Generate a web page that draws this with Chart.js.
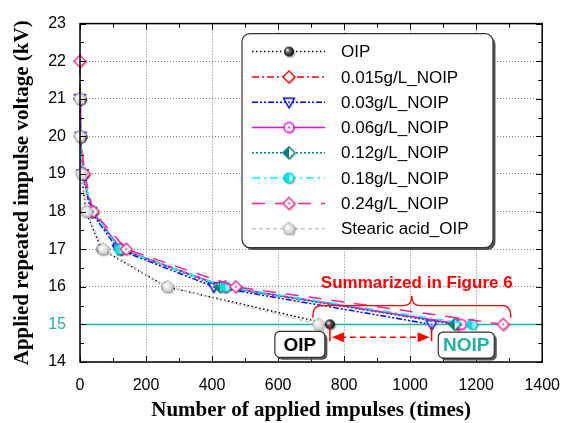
<!DOCTYPE html>
<html>
<head>
<meta charset="utf-8">
<script src="https://cdn.jsdelivr.net/npm/chart.js@4/dist/chart.umd.min.js"></script>
<style>
  html, body { margin: 0; background: #fff; }
</style>
</head>
<body>
<canvas id="c" width="574" height="423"></canvas>
<script>
// ---- data ----
const voltage = [21, 20, 19, 18, 17, 16, 15];
const voltageFrom22 = [22, 21, 20, 19, 18, 17, 16, 15];

const oipX = [0, 0, 4, 18, 65, 262, 757];
const noip015X = [0, 2, 8, 36, 124, 440, 1145];
const noip03X = [0, 2, 8, 33, 115, 405, 1065];
const noip06X = [0, 2, 9, 37, 125, 437, 1155];
const noip12X = [0, 2, 9, 37, 122, 425, 1135];
const noip18X = [0, 2, 9, 38, 120, 441, 1188];
const noip24X = [0, 0, 2, 14, 40, 140, 472, 1282];
const stearicX = [0, 0, 5, 20, 70, 265, 722];

const seriesLabels = ['OIP', '0.015g/L_NOIP', '0.03g/L_NOIP', '0.06g/L_NOIP',
    '0.12g/L_NOIP', '0.18g/L_NOIP', '0.24g/L_NOIP', 'Stearic acid_OIP'];

const xTicks = [0, 200, 400, 600, 800, 1000, 1200, 1400];
const yTicks = [14, 15, 16, 17, 18, 19, 20, 21, 22, 23];
const refVoltage = 15;

const TEAL = '#20b2a6';
const sans = '"Liberation Sans", Arial, sans-serif';
const serif = '"Liberation Serif", "Times New Roman", serif';

// ---- markers (small canvases used as pointStyle) ----
function marker(draw) {
    const c = document.createElement('canvas');
    c.width = c.height = 18;
    const g = c.getContext('2d');
    g.translate(9, 9);
    g.shadowColor = 'rgba(0,0,0,0.25)';
    g.shadowOffsetX = 1.5;
    g.shadowOffsetY = 1.5;
    g.shadowBlur = 1;
    g.lineWidth = 1.4;
    draw(g);
    return c;
}
const diamond = (g, r) => {
    g.beginPath();
    g.moveTo(0, -r); g.lineTo(r, 0); g.lineTo(0, r); g.lineTo(-r, 0); g.closePath();
};
const dot = (g, col) => {
    g.shadowColor = 'transparent';
    g.fillStyle = col;
    g.beginPath(); g.arc(0, 0, 1, 0, Math.PI * 2); g.fill();
};

const markers = [
    marker((g) => {
        const grd = g.createRadialGradient(-1.8, -1.8, 0.3, 0, 0, 5.3);
        grd.addColorStop(0, '#fff');
        grd.addColorStop(0.35, '#666');
        grd.addColorStop(1, '#000');
        g.fillStyle = grd;
        g.beginPath(); g.arc(0, 0, 5, 0, Math.PI * 2); g.fill();
    }),
    marker((g) => {
        diamond(g, 6); g.fillStyle = '#fff'; g.fill();
        g.shadowColor = 'transparent'; g.strokeStyle = '#ff0000'; g.stroke();
    }),
    marker((g) => {
        g.beginPath(); g.moveTo(-5.5, -4); g.lineTo(5.5, -4); g.lineTo(0, 5.5); g.closePath();
        g.fillStyle = '#fff'; g.fill();
        g.shadowColor = 'transparent'; g.strokeStyle = '#0000ff'; g.stroke();
        dot(g, '#0000ff');
    }),
    marker((g) => {
        g.beginPath(); g.arc(0, 0, 5, 0, Math.PI * 2);
        g.fillStyle = '#fff'; g.fill();
        g.shadowColor = 'transparent'; g.strokeStyle = '#ff00ff'; g.stroke();
        dot(g, '#ff00ff');
    }),
    marker((g) => {
        diamond(g, 6); g.fillStyle = '#fff'; g.fill();
        g.shadowColor = 'transparent';
        g.save(); g.beginPath(); g.rect(-7, -7, 7, 14); g.clip();
        diamond(g, 6); g.fillStyle = '#008080'; g.fill(); g.restore();
        diamond(g, 6); g.strokeStyle = '#008080'; g.stroke();
    }),
    marker((g) => {
        g.beginPath(); g.arc(0, 0, 5, 0, Math.PI * 2);
        g.fillStyle = '#9ff'; g.fill();
        g.shadowColor = 'transparent';
        g.save(); g.beginPath(); g.rect(-6, -6, 6, 12); g.clip();
        g.beginPath(); g.arc(0, 0, 5, 0, Math.PI * 2); g.fillStyle = '#00e5e5'; g.fill(); g.restore();
        g.beginPath(); g.arc(0, 0, 5, 0, Math.PI * 2); g.strokeStyle = '#00cccc'; g.stroke();
    }),
    marker((g) => {
        diamond(g, 6); g.fillStyle = '#fff'; g.fill();
        g.shadowColor = 'transparent'; g.strokeStyle = '#ff1f8f'; g.stroke();
        dot(g, '#ff1f8f');
    }),
    marker((g) => {
        g.beginPath();
        for (let k = 0; k < 5; k++) {
            const a = -Math.PI / 2 + k * 2 * Math.PI / 5;
            g.lineTo(6.6 * Math.cos(a), 6.6 * Math.sin(a));
        }
        g.closePath();
        const grd = g.createRadialGradient(-1.5, -1.5, 0.5, 0, 0, 6.6);
        grd.addColorStop(0, '#fff');
        grd.addColorStop(1, '#c4c4c4');
        g.fillStyle = grd; g.fill();
        g.shadowColor = 'transparent'; g.lineWidth = 0.8; g.strokeStyle = '#adadad'; g.stroke();
    }),
];

const lineColors = ['#000000', '#ff0000', '#0000ff', '#ff00ff', '#008080', '#00ffff', '#ff1f8f', '#c8c8c8'];
const lineDashes = [[1.5, 2.5], [7, 3, 2, 3], [6, 2, 2, 2, 2, 2], [], [2, 2], [8, 4, 2, 4], [13, 10], [4, 3]];
const xSeries = [oipX, noip015X, noip03X, noip06X, noip12X, noip18X, noip24X, stearicX];

const datasets = seriesLabels.map((label, i) => {
    const ys = i === 6 ? voltageFrom22 : voltage;
    return {
        label,
        data: xSeries[i].map((x, k) => ({ x, y: ys[k] })),
        showLine: true,
        borderColor: lineColors[i],
        borderWidth: 1.5,
        borderDash: lineDashes[i],
        pointStyle: markers[i],
        pointRadius: 6,
        order: -i,
        clip: false,
    };
});

// ---- frame, ticks, reference line, legend and annotations ----
const decor = {
    id: 'decor',
    beforeDatasetsDraw(chart) {
        const { ctx, chartArea: a, scales: { y } } = chart;
        const py = y.getPixelForValue(refVoltage);
        ctx.save();
        ctx.strokeStyle = TEAL;
        ctx.lineWidth = 1.5;
        ctx.beginPath(); ctx.moveTo(a.left, py); ctx.lineTo(a.right, py); ctx.stroke();
        ctx.restore();
    },
    afterDatasetsDraw(chart) {
        const { ctx, chartArea: a, scales: { x, y } } = chart;
        ctx.save();
        ctx.strokeStyle = '#000';
        ctx.lineWidth = 1;
        ctx.beginPath();
        for (let v = 0; v <= 1400; v += 100) {
            const px = Math.round(x.getPixelForValue(v)) + 0.5;
            const len = v % 200 === 0 ? 6 : 4;
            ctx.moveTo(px, a.bottom); ctx.lineTo(px, a.bottom - len);
            ctx.moveTo(px, a.top); ctx.lineTo(px, a.top + len);
        }
        for (let v = 14; v <= 23; v += 0.5) {
            const py = Math.round(y.getPixelForValue(v)) + 0.5;
            const len = v % 1 === 0 ? 6 : 4;
            ctx.moveTo(a.left, py); ctx.lineTo(a.left + len, py);
            ctx.moveTo(a.right, py); ctx.lineTo(a.right - len, py);
        }
        ctx.stroke();
        ctx.lineWidth = 1.5;
        ctx.strokeRect(a.left, a.top, a.right - a.left, a.bottom - a.top);
        ctx.restore();
    },
    afterDraw(chart) {
        const { ctx, chartArea: a, scales: { x, y } } = chart;
        const X = (v) => x.getPixelForValue(v);
        const Y = (v) => y.getPixelForValue(v);

        const box = (l, t, w, h, r, fill, stroke) => {
            ctx.save();
            ctx.fillStyle = '#555';
            ctx.beginPath(); ctx.roundRect(l + 2.5, t + 2.5, w, h, r); ctx.fill();
            ctx.fillStyle = fill;
            ctx.beginPath(); ctx.roundRect(l, t, w, h, r); ctx.fill();
            ctx.strokeStyle = stroke; ctx.lineWidth = 1.2; ctx.stroke();
            ctx.restore();
        };

        // legend
        const lx = a.left + 162, ly = a.top + 10;
        box(lx, ly, 251, 214, 8, '#fff', '#333');
        chart.data.datasets.forEach((ds, i) => {
            const ry = ly + 18 + i * 25.3;
            ctx.save();
            ctx.strokeStyle = ds.borderColor;
            ctx.lineWidth = 1.5;
            ctx.setLineDash(ds.borderDash);
            ctx.beginPath(); ctx.moveTo(lx + 10, ry); ctx.lineTo(lx + 83, ry); ctx.stroke();
            ctx.restore();
            const m = ds.pointStyle;
            ctx.drawImage(m, lx + 47 - m.width / 2, ry - m.height / 2);
            ctx.fillStyle = '#000';
            ctx.font = '17px ' + sans;
            ctx.textBaseline = 'middle';
            ctx.fillText(ds.label, lx + 99, ry + 1);
        });

        // brace + caption
        ctx.save();
        ctx.strokeStyle = '#ff0000';
        ctx.lineWidth = 1.3;
        const bl = X(705), br = X(1305), bc = X(1005);
        const b0 = Y(15.18), b1 = Y(15.5), b2 = Y(15.76);
        ctx.beginPath();
        ctx.moveTo(bl, b0);
        ctx.quadraticCurveTo(bl, b1, bl + 8, b1);
        ctx.lineTo(bc - 8, b1);
        ctx.quadraticCurveTo(bc, b1, bc, b2);
        ctx.quadraticCurveTo(bc, b1, bc + 8, b1);
        ctx.lineTo(br - 8, b1);
        ctx.quadraticCurveTo(br, b1, br, b0);
        ctx.stroke();
        ctx.fillStyle = '#ff0000';
        ctx.font = 'bold 17px ' + sans;
        ctx.textAlign = 'center';
        ctx.textBaseline = 'middle';
        ctx.fillText('Summarized in Figure 6', X(1020), Y(16.1));

        // double arrow between OIP and NOIP breakdown
        const xa = X(oipX[6]), xb = X(noip03X[6]), ya = Y(14.66);
        ctx.lineWidth = 1.5;
        ctx.beginPath();
        ctx.moveTo(xa, Y(14.95)); ctx.lineTo(xa, Y(14.55));
        ctx.moveTo(xb, Y(14.95)); ctx.lineTo(xb, Y(14.55));
        ctx.stroke();
        ctx.setLineDash([6, 4]);
        ctx.beginPath(); ctx.moveTo(xa + 10, ya); ctx.lineTo(xb - 10, ya); ctx.stroke();
        ctx.setLineDash([]);
        ctx.beginPath();
        ctx.moveTo(xa + 2, ya); ctx.lineTo(xa + 14, ya - 5); ctx.lineTo(xa + 14, ya + 5); ctx.closePath();
        ctx.moveTo(xb - 2, ya); ctx.lineTo(xb - 14, ya - 5); ctx.lineTo(xb - 14, ya + 5); ctx.closePath();
        ctx.fill();
        ctx.restore();

        // OIP / NOIP tags
        const tag = (text, cx, cy, w, col) => {
            box(cx - w / 2, cy - 13, w, 26, 5, '#fff', '#333');
            ctx.save();
            ctx.fillStyle = col;
            ctx.font = 'bold 19px ' + sans;
            ctx.textAlign = 'center';
            ctx.textBaseline = 'middle';
            ctx.fillText(text, cx, cy + 1);
            ctx.restore();
        };
        tag('OIP', X(666), Y(14.47), 50, '#000');
        tag('NOIP', X(1170), Y(14.45), 56, TEAL);
    },
};

new Chart(document.getElementById('c'), {
    type: 'scatter',
    data: { datasets },
    options: {
        responsive: false,
        animation: false,
        layout: { padding: { top: 20, right: 27, left: 0, bottom: 0 } },
        plugins: { legend: { display: false }, tooltip: { enabled: false } },
        scales: {
            x: {
                type: 'linear',
                min: 0,
                max: 1400,
                afterBuildTicks: (s) => { s.ticks = xTicks.map((value) => ({ value })); },
                afterFit: (s) => { s.height = 61; },
                grid: { color: '#808080', lineWidth: 1, drawTicks: false },
                border: { display: false, dash: [1, 2] },
                ticks: {
                    color: '#000',
                    padding: 14,
                    font: { size: 16, family: sans },
                    callback: (v) => String(v),
                },
                title: {
                    display: true,
                    text: 'Number of applied impulses (times)',
                    color: '#000',
                    font: { size: 21, weight: 'bold', family: serif },
                    padding: { top: 8, bottom: 0 },
                },
            },
            y: {
                type: 'linear',
                min: 14,
                max: 23,
                afterBuildTicks: (s) => { s.ticks = yTicks.map((value) => ({ value })); },
                afterFit: (s) => { s.width = 80; },
                grid: {
                    color: (c) => (c.tick && c.tick.value === refVoltage ? 'rgba(0,0,0,0)' : '#808080'),
                    lineWidth: 1,
                    drawTicks: false,
                },
                border: { display: false, dash: [1, 2] },
                ticks: {
                    color: (c) => (c.tick && c.tick.value === refVoltage ? TEAL : '#000'),
                    padding: 14,
                    font: { size: 16, family: sans },
                    callback: (v) => String(v),
                },
                title: {
                    display: true,
                    text: 'Applied repeated impulse voltage (kV)',
                    color: '#000',
                    font: { size: 21, weight: 'bold', family: serif },
                    padding: { top: 10, bottom: 0 },
                },
            },
        },
    },
    plugins: [decor],
});
</script>
</body>
</html>
